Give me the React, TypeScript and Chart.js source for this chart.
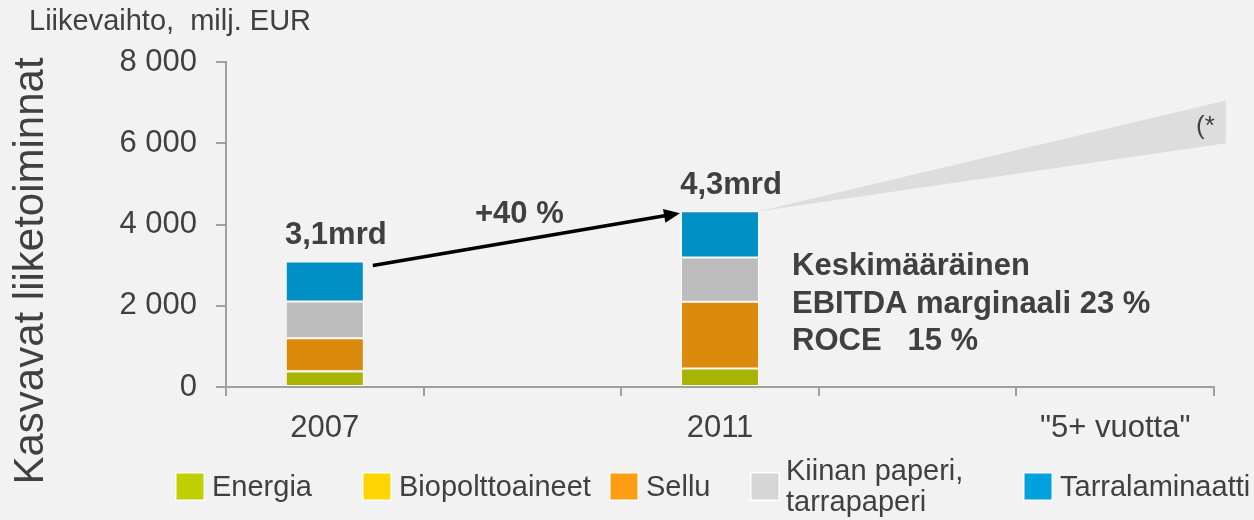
import React, { useEffect, useRef } from 'react';
import { Chart, registerables } from 'chart.js';

Chart.register(...registerables);

// ---- data ----
const CATEGORIES = ['2007', '', '2011', '', '"5+ vuotta"'];
const ENERGIA = [380, null, 453, null, null];
const BIOPOLTTOAINEET = [10, null, 0, null, null];
const SELLU = [812, null, 1646, null, null];
const KIINAN_PAPERI = [900, null, 1091, null, null];
const TARRALAMINAATTI = [988, null, 1139, null, null];
const Y_TICKS = [0, 2000, 4000, 6000, 8000];
const FORECAST_RANGE = [6000, 7050];
const TOTAL_LABELS = ['3,1mrd', '', '4,3mrd', '', ''];
const GROWTH_LABEL = '+40 %';
const FORECAST_NOTE = '(*';
const KPI_LINES = ['Keskimääräinen', 'EBITDA marginaali 23 %', 'ROCE   15 %'];
const TITLE = 'Liikevaihto,  milj. EUR';
const Y_TITLE = 'Kasvavat liiketoiminnat';
const LEGEND_LABELS = [['Energia'], ['Biopolttoaineet'], ['Sellu'], ['Kiinan paperi,', 'tarrapaperi'], ['Tarralaminaatti']];

// ---- styles ----
const BAR_COLORS = ['#a9b400', '#ffd200', '#dc8a0c', '#bdbdbd', '#0090c6'];
const LEGEND_COLORS = ['#c0cf00', '#ffd500', '#ff9e12', '#d6d6d6', '#00a1dd'];
const TEXT = '#404040';
const AXIS = '#a0a0a0';
const FONT = "'Liberation Sans', Arial, sans-serif";
const LEGEND_BOX_X = [175, 362, 609, 750, 1023];
const WEDGE_END_INDEX = 4.56;

const SERIES = [ENERGIA, BIOPOLTTOAINEET, SELLU, KIINAN_PAPERI, TARRALAMINAATTI];

function total(i: number) {
  return SERIES.reduce((s, arr) => s + (arr[i] || 0), 0);
}

const fmt = (v: number) => String(v).replace(/\B(?=(\d{3})+(?!\d))/g, ' ');

const annotations = {
  id: 'annotations',
  beforeDatasetsDraw(chart: any) {
    const { ctx, scales } = chart;
    const x = scales.x;
    const y = scales.y;
    const topMeta = chart.getDatasetMeta(SERIES.length - 1);
    const bar = topMeta.data[2];
    const sx = bar.x + bar.width / 2;
    const sy = y.getPixelForValue(total(2));
    const ex = x.getPixelForValue(WEDGE_END_INDEX);
    ctx.save();
    ctx.fillStyle = '#dcdddc';
    ctx.beginPath();
    ctx.moveTo(sx, sy);
    ctx.lineTo(ex, y.getPixelForValue(FORECAST_RANGE[1]));
    ctx.lineTo(ex, y.getPixelForValue(FORECAST_RANGE[0]));
    ctx.closePath();
    ctx.fill();
    ctx.fillStyle = TEXT;
    ctx.font = `26px ${FONT}`;
    ctx.textAlign = 'right';
    ctx.textBaseline = 'alphabetic';
    ctx.fillText(FORECAST_NOTE, ex - 11, y.getPixelForValue((FORECAST_RANGE[0] + FORECAST_RANGE[1]) / 2) + 12);
    ctx.restore();
  },
  afterDatasetsDraw(chart: any) {
    const { ctx, scales } = chart;
    const y = scales.y;
    const topMeta = chart.getDatasetMeta(SERIES.length - 1);
    ctx.save();

    // total labels
    ctx.fillStyle = TEXT;
    ctx.font = `bold 31px ${FONT}`;
    ctx.textAlign = 'center';
    ctx.textBaseline = 'alphabetic';
    TOTAL_LABELS.forEach((lab, i) => {
      if (!lab) return;
      const b = topMeta.data[i];
      ctx.fillText(lab, b.x + 11, y.getPixelForValue(total(i)) - 17);
    });

    // arrow
    const b0 = topMeta.data[0];
    const b2 = topMeta.data[2];
    const x1 = b0.x + b0.width / 2 + 9;
    const y1 = y.getPixelForValue(total(0)) + 4;
    const x2 = b2.x - b2.width / 2 - 1;
    const y2 = y.getPixelForValue(total(2)) + 2;
    const ang = Math.atan2(y2 - y1, x2 - x1);
    const headLen = 16;
    const headW = 7;
    const bx = x2 - headLen * Math.cos(ang);
    const by = y2 - headLen * Math.sin(ang);
    ctx.strokeStyle = '#000';
    ctx.lineWidth = 3.5;
    ctx.beginPath();
    ctx.moveTo(x1, y1);
    ctx.lineTo(bx + 2 * Math.cos(ang), by + 2 * Math.sin(ang));
    ctx.stroke();
    ctx.fillStyle = '#000';
    ctx.beginPath();
    ctx.moveTo(x2, y2);
    ctx.lineTo(bx + headW * Math.sin(ang), by - headW * Math.cos(ang));
    ctx.lineTo(bx - headW * Math.sin(ang), by + headW * Math.cos(ang));
    ctx.closePath();
    ctx.fill();

    // growth label
    ctx.fillStyle = TEXT;
    ctx.font = `bold 31px ${FONT}`;
    ctx.textAlign = 'center';
    ctx.fillText(GROWTH_LABEL, (x1 + x2) / 2 - 7, (y1 + y2) / 2 - 16);

    // KPI block
    ctx.textAlign = 'left';
    const kx = b2.x + b2.width / 2 + 33;
    const ky = y.getPixelForValue(total(2)) + 64;
    KPI_LINES.forEach((l, i) => ctx.fillText(l, kx, ky + i * 37.5));

    // title
    ctx.font = `29px ${FONT}`;
    ctx.fillText(TITLE, 29, 30);

    // y title
    ctx.save();
    ctx.font = `42px ${FONT}`;
    ctx.textAlign = 'center';
    ctx.translate(43, 271);
    ctx.rotate(-Math.PI / 2);
    ctx.fillText(Y_TITLE, 0, 0);
    ctx.restore();

    // legend
    ctx.font = `29px ${FONT}`;
    ctx.textAlign = 'left';
    LEGEND_LABELS.forEach((lines, i) => {
      const bxp = LEGEND_BOX_X[i];
      ctx.fillStyle = '#ffffff';
      ctx.fillRect(bxp, 472, 30, 29);
      ctx.fillStyle = LEGEND_COLORS[i];
      ctx.fillRect(bxp + 1.5, 473.5, 27, 26);
      ctx.fillStyle = TEXT;
      if (lines.length === 1) {
        ctx.fillText(lines[0], bxp + 37, 496);
      } else {
        ctx.fillText(lines[0], bxp + 36, 480);
        ctx.fillText(lines[1], bxp + 36, 511);
      }
    });
    ctx.restore();
  },
};

export default function App() {
  const ref = useRef<HTMLCanvasElement>(null);
  useEffect(() => {
    if (!ref.current) return;
    const chart = new Chart(ref.current, {
      type: 'bar',
      data: {
        labels: CATEGORIES,
        datasets: SERIES.map((arr, i) => ({
          label: LEGEND_LABELS[i].join(' '),
          data: arr,
          backgroundColor: BAR_COLORS[i],
          borderColor: '#ffffff',
          borderWidth: 1,
          borderSkipped: false,
          categoryPercentage: 1,
          barPercentage: 0.395,
        })),
      },
      options: {
        animation: false,
        responsive: false,
        layout: { padding: { top: 62, right: 40, left: 0, bottom: 0 } },
        plugins: { legend: { display: false }, tooltip: { enabled: false } },
        scales: {
          x: {
            stacked: true,
            afterFit: (s: any) => { s.height = 133; },
            border: { display: true, color: AXIS, width: 2 },
            grid: { display: true, drawOnChartArea: false, drawTicks: true, tickLength: 9, color: AXIS, lineWidth: 2, offset: true },
            ticks: { color: TEXT, font: { family: FONT, size: 31 }, padding: 14, maxRotation: 0, autoSkip: false },
          },
          y: {
            stacked: true,
            min: Y_TICKS[0],
            max: Y_TICKS[Y_TICKS.length - 1],
            afterFit: (s: any) => { s.width = 226; },
            afterBuildTicks: (s: any) => { s.ticks = Y_TICKS.map((v) => ({ value: v })); },
            border: { display: true, color: AXIS, width: 2 },
            grid: { display: true, drawOnChartArea: false, drawTicks: true, tickLength: 10, color: AXIS, lineWidth: 2 },
            ticks: { color: TEXT, font: { family: FONT, size: 31 }, padding: 19, callback: (v: any) => fmt(Number(v)) },
          },
        },
      },
      plugins: [annotations],
    });
    return () => chart.destroy();
  }, []);
  return (
    <div style={{ position: 'absolute', left: 0, top: 0, width: 1254, height: 520, background: '#f2f2f2' }}>
      <canvas ref={ref} width={1254} height={520} style={{ display: 'block', width: 1254, height: 520 }} />
    </div>
  );
}
